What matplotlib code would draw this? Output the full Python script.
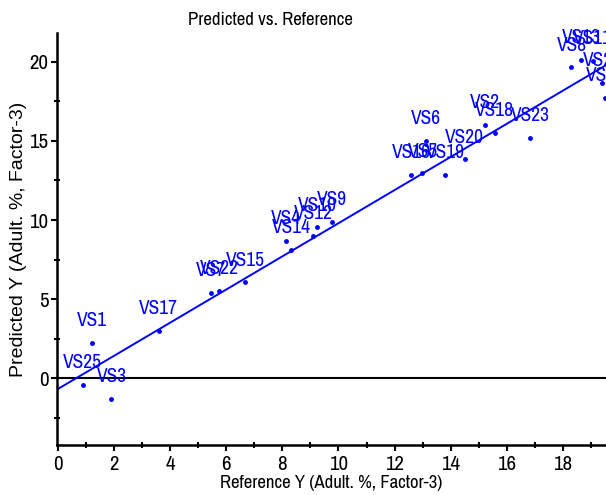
import matplotlib
matplotlib.use('Agg')
import matplotlib.pyplot as plt
import numpy as np

# sample names and values
names = ['VS1', 'VS2', 'VS3', 'VS4', 'VS5', 'VS6', 'VS7', 'VS8', 'VS9', 'VS10',
         'VS11', 'VS12', 'VS13', 'VS14', 'VS15', 'VS16', 'VS17', 'VS18', 'VS19',
         'VS20', 'VS21', 'VS22', 'VS23', 'VS24', 'VS25']
ref = [1.22, 15.23, 1.91, 8.13, 12.99, 13.13, 5.45, 18.30, 9.78, 9.24,
       19.05, 9.10, 18.65, 8.32, 6.67, 12.60, 3.59, 15.56, 13.80,
       14.49, 19.40, 5.75, 16.83, 19.50, 0.89]
pred = [2.23, 16.01, -1.29, 8.67, 12.95, 15.02, 5.40, 19.64, 9.87, 9.54,
        20.05, 9.01, 20.1, 8.14, 6.06, 12.85, 2.99, 15.49, 12.85,
        13.84, 18.65, 5.51, 15.17, 17.70, -0.42]

x = np.array(ref)
y = np.array(pred)
b, a = np.polyfit(x, y, 1)

narrow = ['Archivo Narrow', 'Liberation Sans', 'DejaVu Sans']
plt.rcParams['font.family'] = narrow

fig = plt.figure(figsize=(6.06, 4.95), dpi=100)
ax = fig.add_axes([0.094, 0.101, 0.906, 0.832])

xmin, xmax = -0.03, 19.53
ax.set_xlim(xmin, xmax)
ax.set_ylim(-4.2, 21.8)

ax.axhline(0, color='black', lw=1.5)
xx = np.array([0, xmax])
ax.plot(xx, a + b * xx, color='#0000ff', lw=1.4)
ax.plot(x, y, 'o', color='#0000ff', ms=3.5, mec='none')

for n, xi, yi in zip(names, x, y):
    ax.annotate(n, (xi, yi), xytext=(0, 16), textcoords='offset points',
                ha='center', va='center', color='#0000ff', fontsize=14,
                annotation_clip=False)

for s in ['top', 'right']:
    ax.spines[s].set_visible(False)
for s in ['left', 'bottom']:
    ax.spines[s].set_linewidth(1.8)

ax.set_xticks(np.arange(0, 19, 2))
ax.set_xticks(np.arange(1, 20, 2), minor=True)
ax.set_yticks([0, 5, 10, 15, 20])
ax.set_yticks([-2.5, 2.5, 7.5, 12.5, 17.5], minor=True)
ax.tick_params(which='major', direction='out', length=4, width=1.5, labelsize=15, pad=2)
ax.tick_params(which='minor', direction='inout', length=5, width=1.5)
ax.tick_params(axis='x', which='major', pad=3)

ax.set_xlabel('Reference Y (Adult. %, Factor-3)', fontsize=13.5, labelpad=1)
ax.set_ylabel('Predicted Y (Adult. %, Factor-3)', fontsize=14, labelpad=2,
              family=['Liberation Sans', 'DejaVu Sans'])
fig.text(0.446, 0.96, 'Predicted vs. Reference', ha='center', va='center', fontsize=13.5)

fig.savefig('out.png', dpi=100)
